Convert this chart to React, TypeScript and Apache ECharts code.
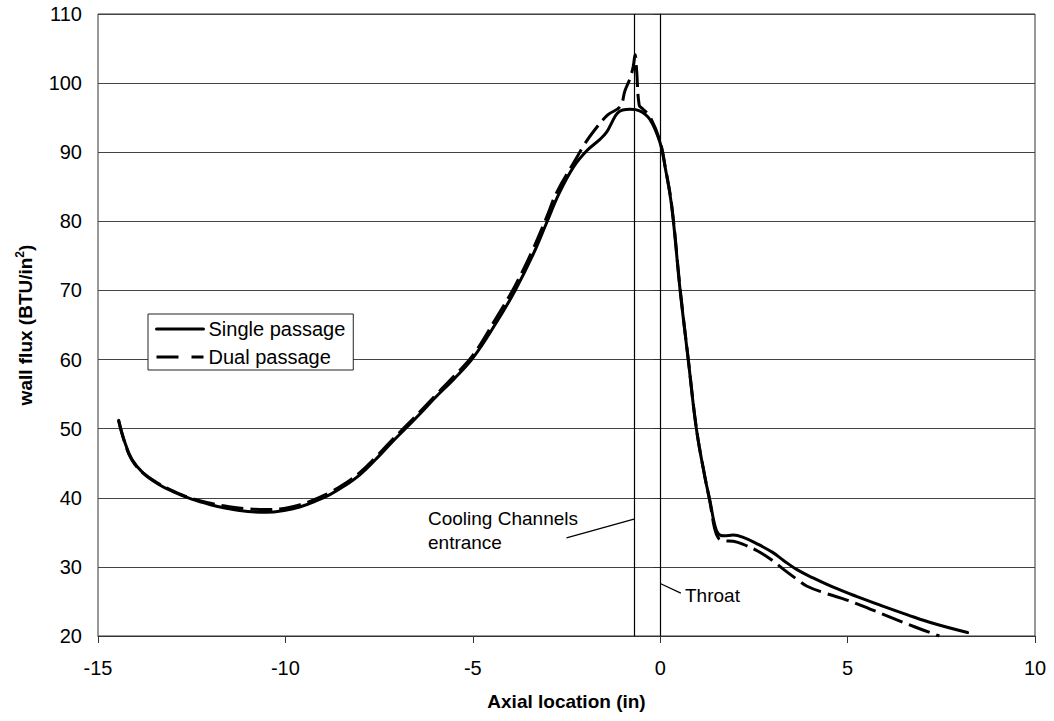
import React, { useEffect, useRef } from "react";
import * as echarts from "echarts";

// Axial location (in) vs wall flux (BTU/in^2)
const singlePassage: [number, number][] = [
  [-14.45, 51.2], [-14.3, 48.3], [-14.1, 45.6], [-13.8, 43.6], [-13.4, 42.0],
  [-13.0, 40.9], [-12.5, 39.8], [-12.0, 39.0], [-11.5, 38.4], [-11.0, 38.0],
  [-10.5, 37.9], [-10.0, 38.2], [-9.6, 38.7], [-9.2, 39.5], [-8.8, 40.5],
  [-8.4, 41.8], [-8.0, 43.4], [-7.6, 45.5], [-7.2, 47.8], [-6.8, 50.0],
  [-6.4, 52.2], [-6.0, 54.5], [-5.5, 57.2], [-5.0, 60.2], [-4.4, 65.1],
  [-3.87, 70.0], [-3.4, 75.1], [-3.03, 79.8], [-2.7, 84.0], [-2.32, 87.8],
  [-1.96, 90.2], [-1.6, 91.9], [-1.43, 92.9], [-1.3, 94.2], [-1.15, 95.6],
  [-1.0, 96.1], [-0.8, 96.2], [-0.55, 96.0], [-0.27, 94.7], [0.0, 91.3],
  [0.13, 87.9], [0.31, 82.0], [0.53, 70.1], [0.75, 59.9], [0.97, 49.8],
  [1.2, 42.8], [1.33, 39.5], [1.45, 36.2], [1.55, 34.8], [1.7, 34.5],
  [1.95, 34.6], [2.2, 34.3], [2.6, 33.3], [3.0, 32.1], [3.3, 30.9],
  [3.65, 29.6], [4.08, 28.4], [4.6, 27.1], [5.25, 25.7], [5.9, 24.4],
  [6.58, 23.1], [7.3, 21.8], [8.2, 20.5],
];

const dualPassage: [number, number][] = [
  [-14.45, 51.2], [-14.3, 48.2], [-14.1, 45.5], [-13.8, 43.6], [-13.4, 42.1],
  [-13.0, 41.0], [-12.5, 39.9], [-12.0, 39.2], [-11.5, 38.7], [-11.0, 38.4],
  [-10.5, 38.3], [-10.0, 38.5], [-9.6, 39.0], [-9.2, 39.8], [-8.8, 40.8],
  [-8.4, 42.1], [-8.0, 43.7], [-7.6, 45.8], [-7.2, 48.1], [-6.8, 50.3],
  [-6.4, 52.5], [-6.0, 54.8], [-5.5, 57.6], [-5.0, 60.6], [-4.4, 65.8],
  [-3.87, 70.7], [-3.4, 75.9], [-3.03, 80.6], [-2.76, 84.2], [-2.23, 89.2],
  [-2.05, 90.9], [-1.78, 93.0], [-1.4, 95.4], [-1.07, 96.6], [-0.94, 98.9],
  [-0.81, 100.6], [-0.72, 102.4], [-0.67, 104.1], [-0.63, 101.9], [-0.56, 96.8],
  [-0.47, 96.3], [-0.27, 95.1], [0.0, 91.5], [0.13, 88.0], [0.31, 82.2],
  [0.53, 70.3], [0.75, 60.0], [0.97, 49.9], [1.2, 42.8], [1.33, 39.3],
  [1.45, 35.6], [1.55, 34.2], [1.7, 33.8], [1.95, 33.7], [2.2, 33.3],
  [2.6, 32.3], [3.0, 30.9], [3.3, 29.6], [3.65, 28.2], [3.92, 27.2],
  [4.4, 26.2], [4.98, 25.2], [5.6, 23.9], [6.2, 22.6], [6.8, 21.3], [7.45, 20.0],
];

const seriesNames = ["Single passage", "Dual passage"];
const coolingEntranceX = -0.7;
const throatX = 0;
const xAxisRange = { min: -15, max: 10, interval: 5 };
const yAxisRange = { min: 20, max: 110, interval: 10 };

const FONT = "'Liberation Sans', Arial, Helvetica, sans-serif";

export default function App() {
  const ref = useRef<HTMLDivElement>(null);

  useEffect(() => {
    if (!ref.current) return;
    const chart = echarts.init(ref.current, undefined, { renderer: "svg" });
    chart.setOption({
      animation: false,
      backgroundColor: "#ffffff",
      textStyle: { fontFamily: FONT, color: "#000" },
      grid: {
        left: 98,
        top: 14,
        right: 19,
        bottom: 85,
        show: true,
        borderColor: "#333",
        borderWidth: 1,
        backgroundColor: "transparent",
      },
      legend: {
        left: 148,
        top: 314,
        orient: "vertical",
        itemWidth: 47,
        itemHeight: 14,
        itemGap: 6,
        padding: [4, 8, 2, 7],
        backgroundColor: "#fff",
        borderColor: "#222",
        borderWidth: 1,
        borderRadius: 0,
        itemStyle: { opacity: 0, color: "rgba(0,0,0,0)", borderWidth: 0 },
        lineStyle: { width: 3, color: "#000" },
        textStyle: { fontSize: 20, fontFamily: FONT, color: "#000", lineHeight: 22 },
        data: [
          { name: seriesNames[0], lineStyle: { type: "solid", width: 3, color: "#000" } },
          { name: seriesNames[1], lineStyle: { type: [22, 13], width: 3, color: "#000" } },
        ],
      },
      xAxis: {
        type: "value",
        ...xAxisRange,
        name: "Axial location (in)",
        nameLocation: "middle",
        nameGap: 56,
        nameTextStyle: { fontSize: 19, fontWeight: "bold", fontFamily: FONT, color: "#000" },
        axisLine: { show: true, onZero: false, lineStyle: { color: "#333", width: 1 } },
        axisTick: { show: true, length: 7, lineStyle: { color: "#333" } },
        axisLabel: { fontSize: 20, color: "#000", margin: 22, fontFamily: FONT },
        splitLine: { show: false },
      },
      yAxis: {
        type: "value",
        ...yAxisRange,
        name: "{b|wall flux (BTU/in}{s|2}{b|)}",
        nameLocation: "middle",
        nameGap: 62,
        nameRotate: 90,
        nameTextStyle: {
          fontFamily: FONT,
          color: "#000",
          rich: {
            b: { fontSize: 19, fontWeight: "bold", fontFamily: FONT, color: "#000", lineHeight: 22 },
            s: { fontSize: 12, fontWeight: "bold", fontFamily: FONT, color: "#000", verticalAlign: "top", lineHeight: 22, padding: [0, 0, 8, 0] },
          },
        },
        axisLine: { show: true, lineStyle: { color: "#333", width: 1 } },
        axisTick: { show: true, length: 7, lineStyle: { color: "#333" } },
        axisLabel: { fontSize: 20, color: "#000", margin: 16, fontFamily: FONT },
        splitLine: { show: true, lineStyle: { color: "#444", width: 1 } },
      },
      series: [
        {
          name: seriesNames[0],
          type: "line",
          data: singlePassage,
          symbol: "none",
          smooth: 0.4,
          lineStyle: { color: "#000", width: 3, type: "solid", join: "round", cap: "round" },
          itemStyle: { color: "#000" },
          z: 3,
          markLine: {
            silent: true,
            symbol: ["none", "none"],
            label: { show: false },
            lineStyle: { color: "#000", width: 1.2, type: "solid" },
            data: [
              { xAxis: coolingEntranceX },
              { xAxis: throatX },
              [{ coord: [-2.5, 34.2] }, { coord: [coolingEntranceX, 36.9] }],
              [{ coord: [throatX, 27.6] }, { coord: [0.55, 26.2] }],
            ],
          },
        },
        {
          name: seriesNames[1],
          type: "line",
          data: dualPassage,
          symbol: "none",
          smooth: 0.4,
          lineStyle: { color: "#000", width: 3, type: [22, 7], join: "round" },
          itemStyle: { color: "#000" },
          z: 4,
        },
      ],
      graphic: [
        {
          type: "text",
          left: 428,
          top: 506,
          style: {
            text: "Cooling Channels\nentrance",
            font: `19px ${FONT}`,
            fill: "#000",
            lineHeight: 24,
          },
        },
        {
          type: "text",
          left: 685,
          top: 586,
          style: { text: "Throat", font: `19px ${FONT}`, fill: "#000" },
        },
      ],
    });
    return () => chart.dispose();
  }, []);

  return <div ref={ref} style={{ width: 1054, height: 721, position: "absolute", left: 0, top: 0 }} />;
}
